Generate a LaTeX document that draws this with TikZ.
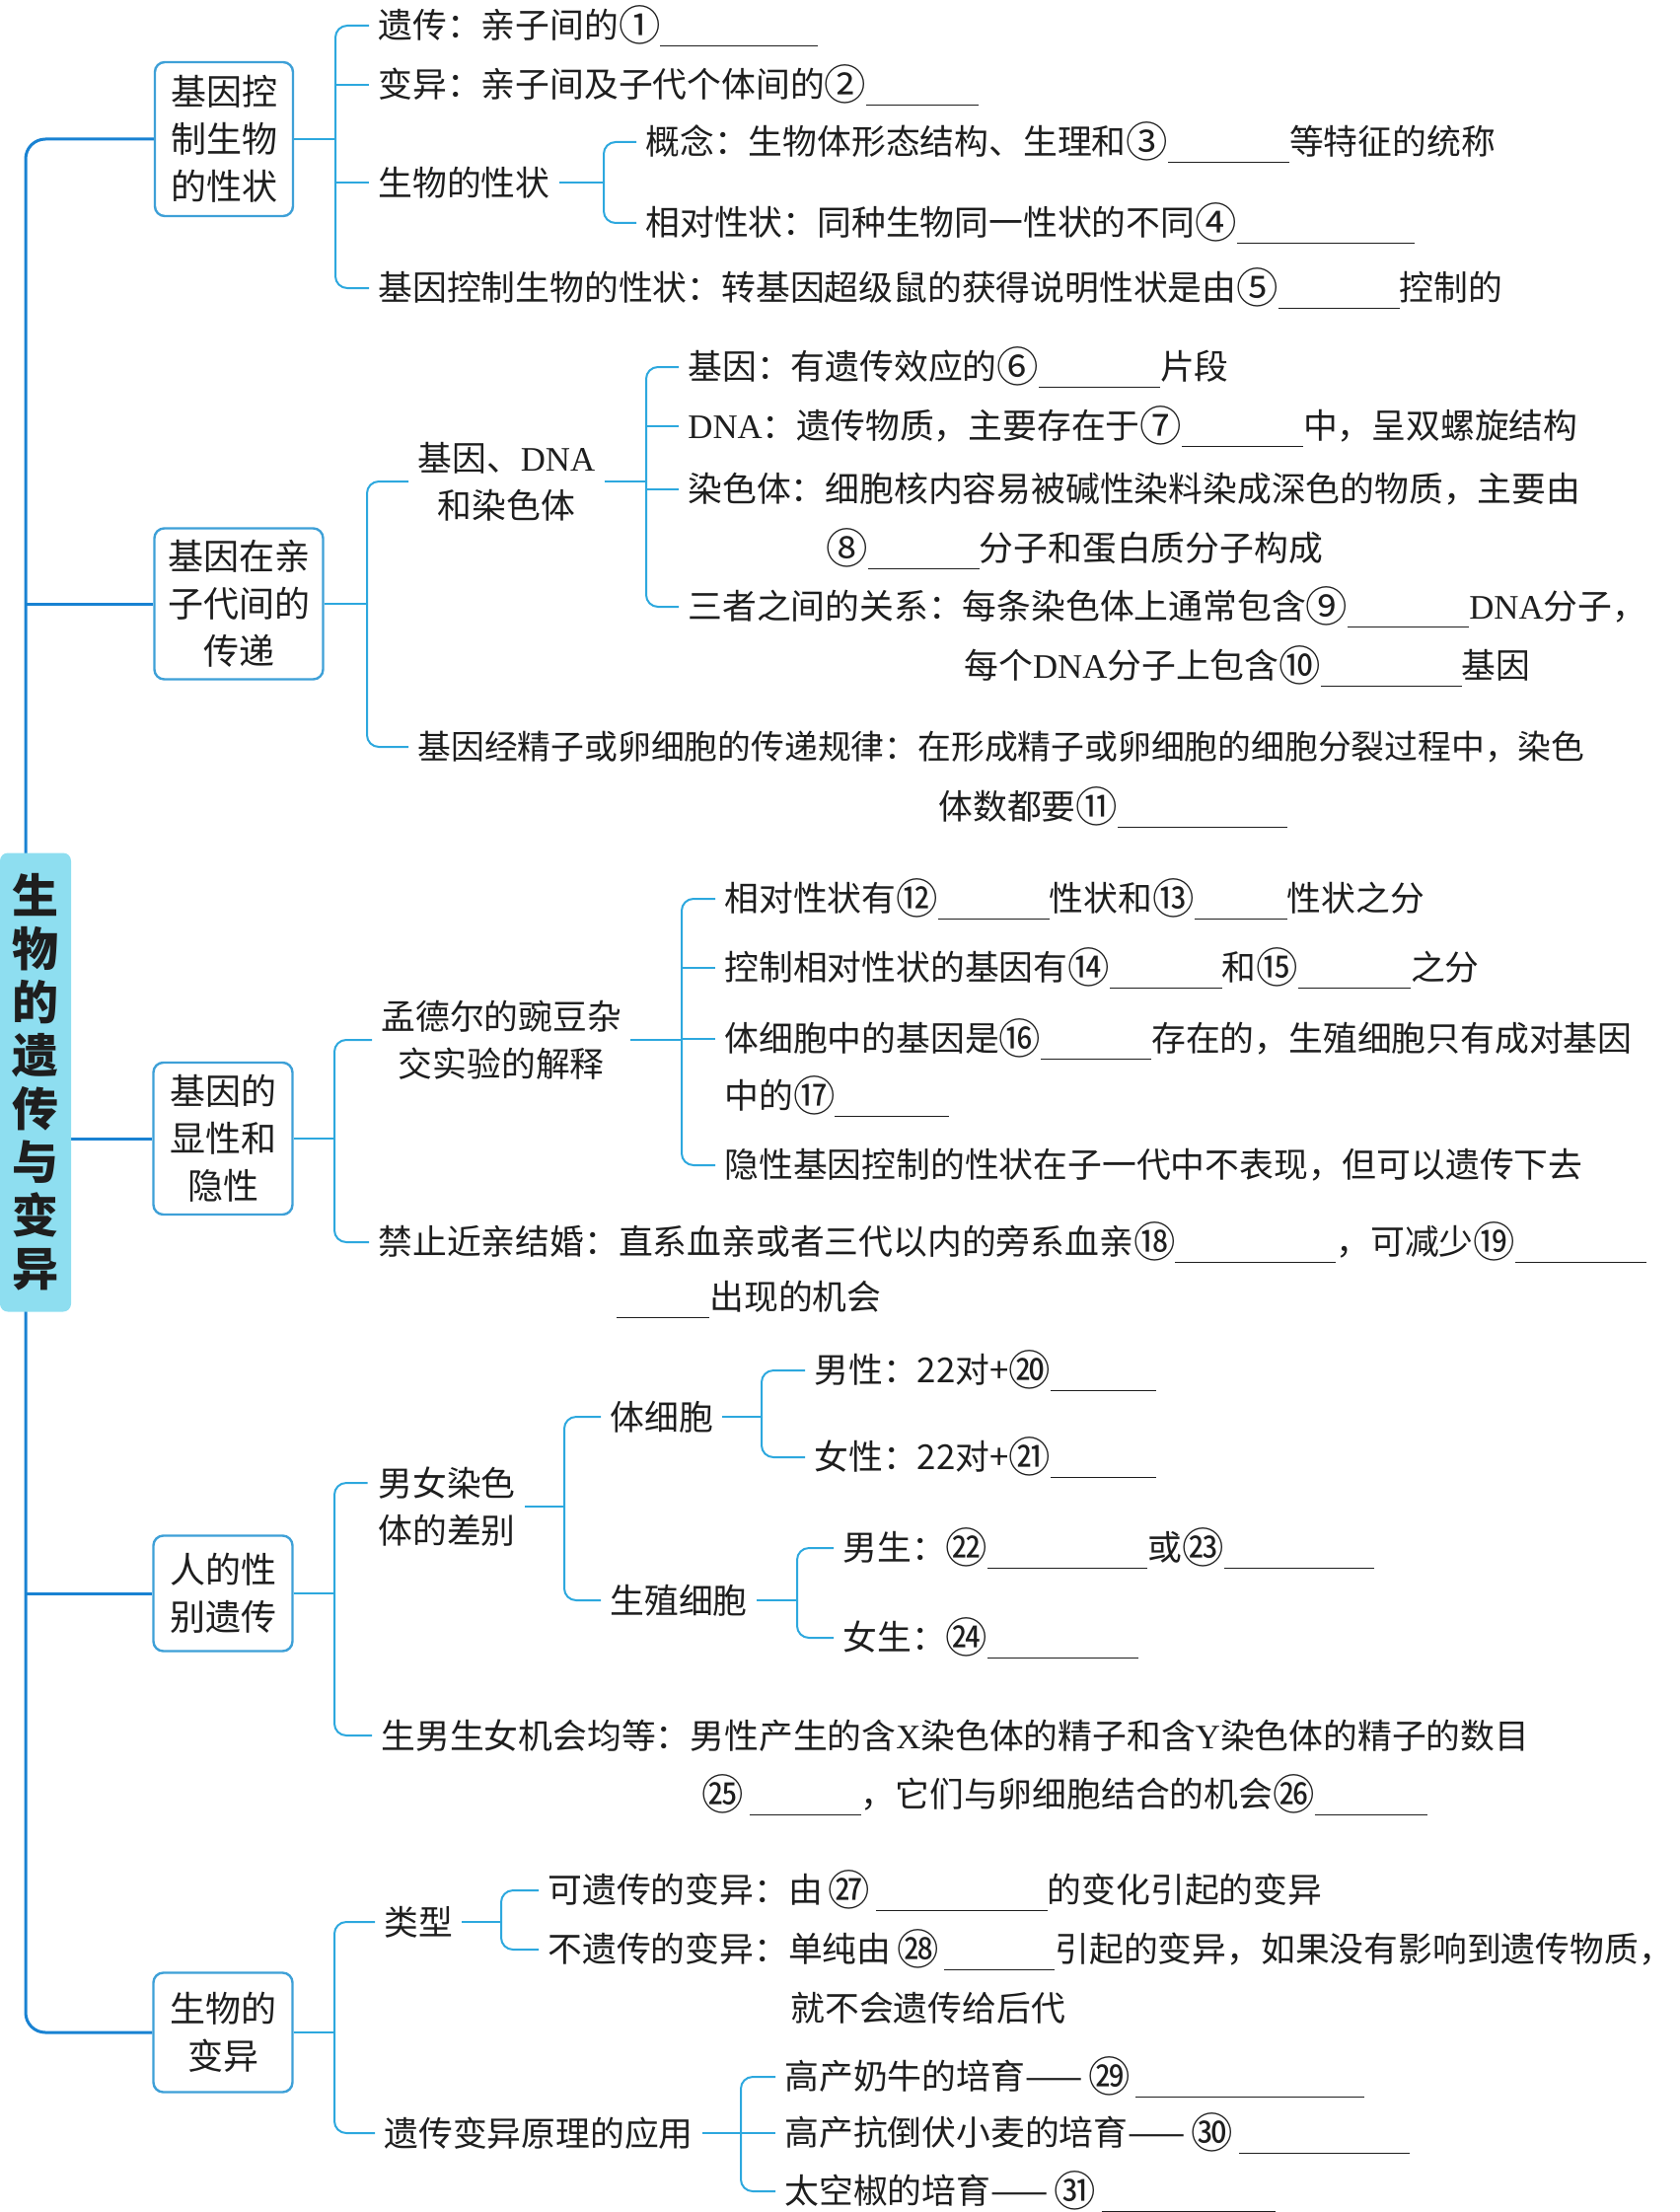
\documentclass[tikz,border=0pt]{standalone}
\usepackage{fontspec}
\setmainfont{Noto Sans CJK SC}
\newfontfamily\latf{Liberation Serif}
\newfontfamily\cnf{Noto Sans CJK SC}[Scale=1.22]
\usetikzlibrary{calc,backgrounds}
\definecolor{spinec}{RGB}{25,130,210}
\definecolor{brc}{RGB}{45,168,222}
\definecolor{boxc}{RGB}{62,160,215}
\definecolor{rootc}{RGB}{142,222,240}
\definecolor{txc}{RGB}{30,30,30}
\newcommand\bl[1]{\rule[-4pt]{\dimexpr #1pt/2\relax}{0.6pt}}
\newcommand\cn[1]{\raisebox{-1.2pt}{\cnf #1}}
\newcommand\fnt{\fontsize{17.4pt}{24pt}\selectfont}
\newcommand\boxf{\fontsize{18pt}{24pt}\selectfont}
\newcommand\dna{{\latf DNA}}
\newcommand\brEnd[3]{\draw[br,rounded corners=6pt,shorten >=4.5pt] (#1 -| #2) |- (#3.west);}
\newcommand\brMid[2]{\draw[br,shorten >=4.5pt] (#2.west -| #1) -- (#2.west);}
\newcommand\brIn[2]{\draw[br,shorten <=4.5pt] (#1) -- (#1 -| #2);}
\newcommand\brBox[2]{\draw[br] (#1) -- (#1 -| #2);}
\begin{document}
\begin{tikzpicture}[x=0.5pt,y=-0.5pt,
  txt/.style={anchor=west,inner xsep=0pt,inner ysep=1pt,font=\fnt,text=txc},
  bx/.style={draw=boxc,line width=1.2pt,rounded corners=5pt,align=center,font=\boxf,text=txc,inner sep=0pt},
  rootbox/.style={fill=rootc,rounded corners=4pt,align=center,inner sep=0pt,
     font=\fontsize{23.5pt}{27pt}\selectfont\bfseries,text=txc,minimum width=36pt,minimum height=232.5pt},
  br/.style={draw=brc,line width=1pt},
  spine/.style={draw=spinec,line width=1.5pt}]
\useasboundingbox (0,0) rectangle (1702,2242);

% boxes
\node[rootbox] (root) at (36,1097) {生\\物\\的\\遗\\传\\与\\变\\异};
\node[bx,minimum width=70pt,minimum height=78pt] (box1) at (227,141) {基因控\\制生物\\的性状};
\node[bx,minimum width=85.5pt,minimum height=76.5pt] (box2) at (242,612) {基因在亲\\子代间的\\传递};
\node[bx,minimum width=70.5pt,minimum height=77pt] (box3) at (226,1154) {基因的\\显性和\\隐性};
\node[bx,minimum width=70.5pt,minimum height=58.5pt] (box4) at (226,1615) {人的性\\别遗传};
\node[bx,minimum width=70.5pt,minimum height=60.5pt] (box5) at (226,2060) {生物的\\变异};

% section 1
\node[txt] (t11) at (383,26) {遗传：亲子间的\cn{①}\bl{160}};
\node[txt] (t12) at (383,86) {变异：亲子间及子代个体间的\cn{②}\bl{114}};
\node[txt] (t13) at (383,185) {生物的性状};
\node[txt] (t14) at (383,292) {基因控制生物的性状：转基因超级鼠的获得说明性状是由\cn{⑤}\bl{123}控制的};
\node[txt] (t131) at (654,144) {概念：生物体形态结构、生理和\cn{③}\bl{123}等特征的统称};
\node[txt] (t132) at (654,226) {相对性状：同种生物同一性状的不同\cn{④}\bl{180}};

% section 2
\node[txt,align=center] (t21) at (423,488) {基因、\dna\\和染色体};
\node[txt,font=\fontsize{16.9pt}{24pt}\selectfont] (t22) at (423,757) {基因经精子或卵细胞的传递规律：在形成精子或卵细胞的细胞分裂过程中，染色};
\node[txt] (t22b) at (951,818) {体数都要\cn{⑪}\bl{172}};
\node[txt] (t211) at (697,372) {基因：有遗传效应的\cn{⑥}\bl{123}片段};
\node[txt] (t212) at (697,432) {\dna：遗传物质，主要存在于\cn{⑦}\bl{123}中，呈双螺旋结构};
\node[txt] (t213) at (697,496) {染色体：细胞核内容易被碱性染料染成深色的物质，主要由};
\node[txt] (t213b) at (837,556) {\cn{⑧}\bl{113}分子和蛋白质分子构成};
\node[txt] (t214) at (697,615) {三者之间的关系：每条染色体上通常包含\cn{⑨}\bl{123}\dna 分子，};
\node[txt] (t214b) at (977,675) {每个\dna 分子上包含\cn{⑩}\bl{143}基因};

% section 3
\node[txt,align=center] (t31) at (386,1054) {孟德尔的豌豆杂\\交实验的解释};
\node[txt] (t32) at (383,1259) {禁止近亲结婚：直系血亲或者三代以内的旁系血亲\cn{⑱}\bl{163}，可减少\cn{⑲}\bl{133}};
\node[txt] (t32b) at (625,1317) {\bl{94}出现的机会};
\node[txt] (t311) at (734,911) {相对性状有\cn{⑫}\bl{113}性状和\cn{⑬}\bl{94}性状之分};
\node[txt] (t312) at (734,981) {控制相对性状的基因有\cn{⑭}\bl{114}和\cn{⑮}\bl{114}之分};
\node[txt] (t313) at (734,1053) {体细胞中的基因是\cn{⑯}\bl{112}存在的，生殖细胞只有成对基因};
\node[txt] (t313b) at (734,1111) {中的\cn{⑰}\bl{116}};
\node[txt] (t314) at (734,1181) {隐性基因控制的性状在子一代中不表现，但可以遗传下去};

% section 4
\node[txt,align=left] (t41) at (383,1527) {男女染色\\体的差别};
\path (t41.west) ++(0,-24) node[inner sep=0pt] (t41a) {};
\node[txt] (t411) at (618,1436) {体细胞};
\node[txt] (t412) at (618,1622) {生殖细胞};
\node[txt] (t4111) at (825,1389) {男性：22对+\cn{⑳}\bl{107}};
\node[txt] (t4112) at (825,1477) {女性：22对+\cn{㉑}\bl{107}};
\node[txt] (t4121) at (854,1569) {男生：\cn{㉒}\bl{162}或\cn{㉓}\bl{152}};
\node[txt] (t4122) at (854,1660) {女生：\cn{㉔}\bl{153}};
\node[txt] (t42) at (386,1759) {生男生女机会均等：男性产生的含{\latf X}染色体的精子和含{\latf Y}染色体的精子的数目};
\node[txt] (t42b) at (711,1819) {\cn{㉕}\,\bl{113}，它们与卵细胞结合的机会\cn{㉖}\bl{114}};

% section 5
\node[txt] (t51) at (389,1948) {类型};
\node[txt] (t511) at (555,1916) {可遗传的变异：由\,\cn{㉗}\,\bl{174}的变化引起的变异};
\node[txt] (t512) at (555,1976) {不遗传的变异：单纯由\,\cn{㉘}\,\bl{112}引起的变异，如果没有影响到遗传物质，};
\node[txt] (t512b) at (801,2035) {就不会遗传给后代};
\node[txt] (t52) at (389,2162) {遗传变异原理的应用};
\node[txt] (t521) at (795,2105) {高产奶牛的培育——\,\cn{㉙}\,\bl{232}};
\node[txt] (t522) at (795,2162) {高产抗倒伏小麦的培育——\,\cn{㉚}\,\bl{173}};
\node[txt] (t523) at (795,2221) {太空椒的培育——\,\cn{㉛}\,\bl{176}};

% bracket x positions
\coordinate (spx) at (26,1100);
\coordinate (b1) at (340,0);
\coordinate (s1) at (612,0);
\coordinate (b2) at (372,0);
\coordinate (s2) at (655,0);
\coordinate (b3) at (339,0);
\coordinate (s3) at (691,0);
\coordinate (b4) at (339,0);
\coordinate (s41) at (572,0);
\coordinate (s411) at (772,0);
\coordinate (s412) at (808,0);
\coordinate (b5) at (339,0);
\coordinate (s51) at (508,0);
\coordinate (s52) at (751,0);

% spine
\begin{scope}[on background layer]
\draw[spine,rounded corners=10pt] (box1.west) -| (spx) |- (box5.west);
\draw[spine] (box2.west -| spx) -- (box2.west);
\draw[spine] (box4.west -| spx) -- (box4.west);
\draw[spine] (root.east |- box3.west) -- (box3.west);
\end{scope}

% section 1 connectors
\brBox{box1.east}{b1}
\brEnd{box1.east}{b1}{t11}
\brMid{b1}{t12}
\brMid{b1}{t13}
\brEnd{box1.east}{b1}{t14}
\brIn{t13.east}{s1}
\brEnd{t13.east}{s1}{t131}
\brEnd{t13.east}{s1}{t132}

% section 2 connectors
\brBox{box2.east}{b2}
\brEnd{box2.east}{b2}{t21}
\brEnd{box2.east}{b2}{t22}
\brIn{t21.east}{s2}
\brEnd{t21.east}{s2}{t211}
\brMid{s2}{t212}
\brMid{s2}{t213}
\brEnd{t21.east}{s2}{t214}

% section 3 connectors
\brBox{box3.east}{b3}
\brEnd{box3.east}{b3}{t31}
\brEnd{box3.east}{b3}{t32}
\brIn{t31.east}{s3}
\brEnd{t31.east}{s3}{t311}
\brMid{s3}{t312}
\brMid{s3}{t313}
\brEnd{t31.east}{s3}{t314}

% section 4 connectors
\brBox{box4.east}{b4}
\brEnd{box4.east}{b4}{t41a}
\brEnd{box4.east}{b4}{t42}
\brIn{t41.east}{s41}
\brEnd{t41.east}{s41}{t411}
\brEnd{t41.east}{s41}{t412}
\brIn{t411.east}{s411}
\brEnd{t411.east}{s411}{t4111}
\brEnd{t411.east}{s411}{t4112}
\brIn{t412.east}{s412}
\brEnd{t412.east}{s412}{t4121}
\brEnd{t412.east}{s412}{t4122}

% section 5 connectors
\brBox{box5.east}{b5}
\brEnd{box5.east}{b5}{t51}
\brEnd{box5.east}{b5}{t52}
\brIn{t51.east}{s51}
\brEnd{t51.east}{s51}{t511}
\brEnd{t51.east}{s51}{t512}
\brIn{t52.east}{s52}
\brEnd{t52.east}{s52}{t521}
\brMid{s52}{t522}
\brEnd{t52.east}{s52}{t523}
\end{tikzpicture}
\end{document}
